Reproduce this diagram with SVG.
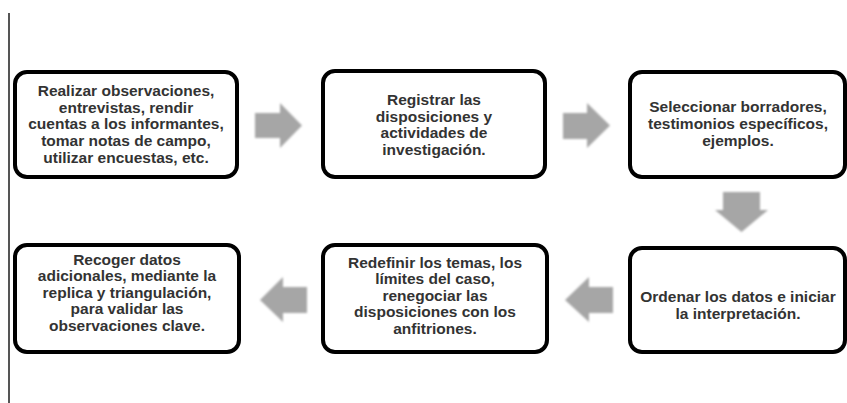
<svg xmlns="http://www.w3.org/2000/svg" width="847" height="403" viewBox="0 0 847 403">
<defs>
<style>
.box{fill:#fff;stroke:#000;stroke-width:4}
.t{font-family:"Liberation Sans",Arial,sans-serif;font-size:15.5px;font-weight:bold;fill:#333;text-anchor:middle}
.arr{fill:#a6a6a6}
</style>
<filter id="blur" x="-10%" y="-10%" width="120%" height="120%"><feGaussianBlur stdDeviation="0.8"/></filter>
</defs>
<rect width="847" height="403" fill="#fff"/>
<line x1="9" y1="13" x2="9" y2="403" stroke="#555" stroke-width="2"/>
<g id="connectors" filter="url(#blur)">
<polygon class="arr" points="255,113 280,113 280,103 302,125.5 280,148 280,138 255,138"/>
<polygon class="arr" points="563,113 587,113 587,103 610,125.5 587,148 587,139 563,139"/>
<polygon class="arr" points="723,192 760,192 760,210 768,210 741.5,232 715,210 723,210"/>
<polygon class="arr" points="613,287 589,287 589,277 565,300 589,322 589,313 613,313"/>
<polygon class="arr" points="307,287 283,287 283,277 260,300 283,322 283,313 307,313"/>
</g>
<g id="n1">
<rect class="box" x="15" y="72" width="222" height="105" rx="12"/>
<text class="t" x="126" y="95.5">Realizar observaciones,</text>
<text class="t" x="126" y="112.5">entrevistas, rendir</text>
<text class="t" x="126" y="129">cuentas a los informantes,</text>
<text class="t" x="126" y="145.5">tomar notas de campo,</text>
<text class="t" x="126" y="162.5">utilizar encuestas, etc.</text>
</g>
<g id="n2">
<rect class="box" x="323" y="71" width="222" height="106" rx="12"/>
<text class="t" x="434" y="105">Registrar las</text>
<text class="t" x="434" y="121.5">disposiciones y</text>
<text class="t" x="434" y="138">actividades de</text>
<text class="t" x="434" y="154.5">investigación.</text>
</g>
<g id="n3">
<rect class="box" x="630" y="72" width="215" height="105" rx="12"/>
<text class="t" x="738" y="112">Seleccionar borradores,</text>
<text class="t" x="738" y="129">testimonios específicos,</text>
<text class="t" x="738" y="146">ejemplos.</text>
</g>
<g id="n4">
<rect class="box" x="15" y="245" width="224" height="107" rx="12"/>
<text class="t" x="127" y="264.5">Recoger datos</text>
<text class="t" x="127" y="281">adicionales, mediante la</text>
<text class="t" x="127" y="297.5">replica y triangulación,</text>
<text class="t" x="127" y="314">para validar las</text>
<text class="t" x="127" y="330.5">observaciones clave.</text>
</g>
<g id="n5">
<rect class="box" x="323" y="245" width="224" height="107" rx="12"/>
<text class="t" x="435" y="267.5">Redefinir los temas, los</text>
<text class="t" x="435" y="284">límites del caso,</text>
<text class="t" x="435" y="300.5">renegociar las</text>
<text class="t" x="435" y="317">disposiciones con los</text>
<text class="t" x="435" y="333.5">anfitriones.</text>
</g>
<g id="n6">
<rect class="box" x="630" y="248" width="215" height="104" rx="12"/>
<text class="t" x="738" y="302">Ordenar los datos e iniciar</text>
<text class="t" x="738" y="318.5">la interpretación.</text>
</g>
</svg>
